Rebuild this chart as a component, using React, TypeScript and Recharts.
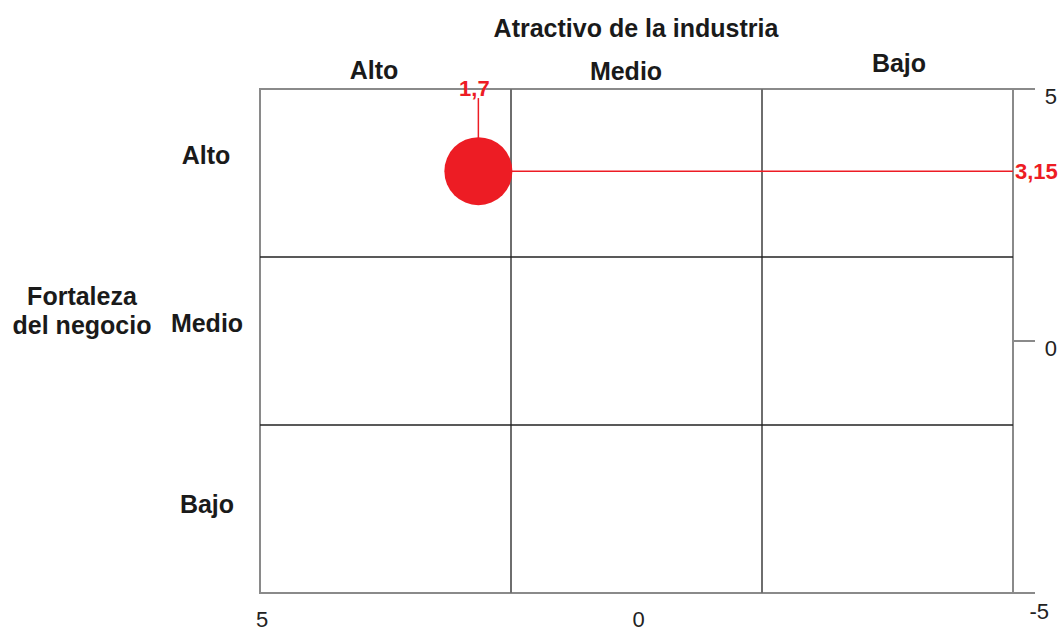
import { ScatterChart, Scatter, XAxis, YAxis, ReferenceLine, ReferenceArea, ReferenceDot } from 'recharts'

// ejes (el eje X va de 5 a -5)
const xTicks = [5, 0]
const yTicks = [5, 0, -5]
const gridCuts = [5 / 3, -5 / 3]

const industryLevels = ['Alto', 'Medio', 'Bajo']
const businessLevels = ['Alto', 'Medio', 'Bajo']

// posición dibujada del negocio y sus etiquetas
const unit = [{ x: 2.1, y: 3.37 }]
const unitLabelX = '1,7'
const unitLabelY = '3,15'
const leaderTop = 4.82

const RED = '#ed1c24'
const FONT = '"Liberation Sans", Arial, sans-serif'

const topLabelPos = [
  { left: 374, top: 70 },
  { left: 626, top: 71 },
  { left: 899, top: 63 },
]
const sideLabelPos = [
  { left: 206, top: 155 },
  { left: 207, top: 323 },
  { left: 207, top: 504 },
]

const labelStyle = {
  position: 'absolute' as const,
  transform: 'translate(-50%, -50%)',
  fontFamily: FONT,
  fontWeight: 700,
  fontSize: 25,
  lineHeight: 1,
  color: '#1a1a1a',
  whiteSpace: 'nowrap' as const,
}

function RightTick(props: any) {
  const { x, y, payload } = props
  const last = payload.value === -5
  return (
    <text
      x={x + (last ? 4 : 12)}
      y={y + (last ? 26 : 15)}
      fontFamily={FONT}
      fontSize={22}
      fill="#222"
      textAnchor="end"
    >
      {payload.value}
    </text>
  )
}

export default function App() {
  return (
    <div style={{ position: 'absolute', left: 0, top: 0, width: 1062, height: 632, background: '#fff' }}>
      <ScatterChart width={1062} height={632} margin={{ top: 89, right: 0, bottom: 0, left: 260 }}>
        <XAxis
          type="number"
          dataKey="x"
          domain={[-5, 5]}
          reversed
          ticks={xTicks}
          axisLine={false}
          tickLine={false}
          tickSize={12}
          tickMargin={6}
          height={39}
          tick={{ fontFamily: FONT, fontSize: 22, fill: '#222', dx: 2 }}
          allowDataOverflow
        />
        <YAxis
          type="number"
          dataKey="y"
          domain={[-5, 5]}
          ticks={yTicks}
          orientation="right"
          width={49}
          axisLine={false}
          tickLine={{ stroke: '#8a8a8a', strokeWidth: 2 }}
          tickSize={22}
          tickMargin={10}
          tick={<RightTick />}
          allowDataOverflow
        />
        <ReferenceArea x1={5} x2={-5} y1={-5} y2={5} fill="none" stroke="#8a8a8a" strokeWidth={2} />
        {gridCuts.map((v) => (
          <ReferenceLine key={'vx' + v} x={v} stroke="#6e6e6e" strokeWidth={2} />
        ))}
        {gridCuts.map((v) => (
          <ReferenceLine key={'hy' + v} y={v} stroke="#222" strokeWidth={1.5} />
        ))}
        <ReferenceLine
          segment={[{ x: unit[0].x, y: leaderTop }, { x: unit[0].x, y: unit[0].y }]}
          stroke={RED}
          strokeWidth={1.5}
        />
        <ReferenceLine
          segment={[{ x: unit[0].x, y: unit[0].y }, { x: -5, y: unit[0].y }]}
          stroke={RED}
          strokeWidth={1.5}
        />
        <Scatter
          data={unit}
          isAnimationActive={false}
          shape={(p: any) => <circle cx={p.cx} cy={p.cy} r={34} fill={RED} />}
        />
        <ReferenceDot
          x={unit[0].x}
          y={5}
          r={0}
          ifOverflow="visible"
          shape={(p: any) => (
            <text x={p.cx - 4} y={p.cy + 7} textAnchor="middle" fontFamily={FONT} fontWeight={700} fontSize={22} fill={RED}>
              {unitLabelX}
            </text>
          )}
        />
        <ReferenceDot
          x={-5}
          y={unit[0].y}
          r={0}
          ifOverflow="visible"
          shape={(p: any) => (
            <text x={p.cx + 2} y={p.cy + 8} textAnchor="start" fontFamily={FONT} fontWeight={700} fontSize={22} fill={RED}>
              {unitLabelY}
            </text>
          )}
        />
      </ScatterChart>

      <div style={{ ...labelStyle, left: 636, top: 28 }}>Atractivo de la industria</div>
      {industryLevels.map((t, i) => (
        <div key={'t' + i} style={{ ...labelStyle, ...topLabelPos[i] }}>{t}</div>
      ))}
      {businessLevels.map((t, i) => (
        <div key={'s' + i} style={{ ...labelStyle, ...sideLabelPos[i] }}>{t}</div>
      ))}
      <div style={{ ...labelStyle, left: 82, top: 311, textAlign: 'center', lineHeight: '29px' }}>
        Fortaleza
        <br />
        del negocio
      </div>
    </div>
  )
}
